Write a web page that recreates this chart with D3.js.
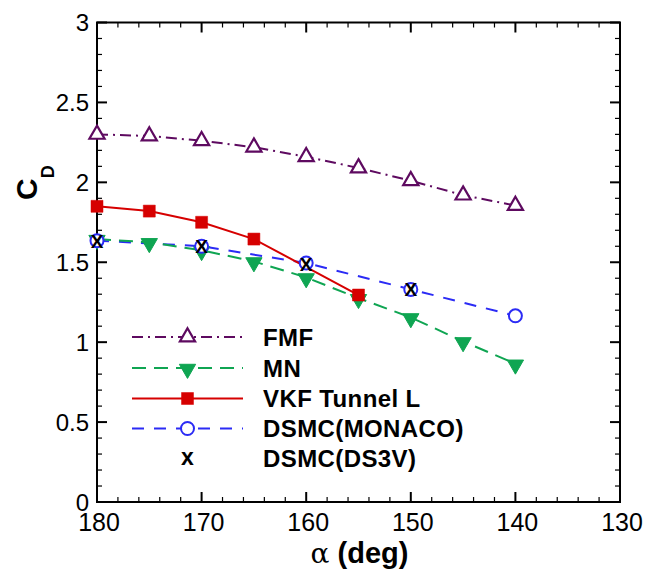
<!DOCTYPE html>
<html>
<head>
<meta charset="utf-8">
<script src="https://cdn.jsdelivr.net/npm/d3@7"></script>
<style>
  html, body { margin: 0; padding: 0; background: #fff; }
  svg { display: block; }
</style>
</head>
<body>
<div id="chart"></div>
<script>
// Drag coefficient vs. angle of attack
const alphaFMF = [180, 175, 170, 165, 160, 155, 150, 145, 140];
const cdFMF    = [2.30, 2.29, 2.26, 2.22, 2.16, 2.09, 2.01, 1.92, 1.855];

const alphaMN = [180, 175, 170, 165, 160, 155, 150, 145, 140];
const cdMN    = [1.645, 1.625, 1.575, 1.505, 1.405, 1.275, 1.155, 1.005, 0.865];

const alphaVKF = [180, 175, 170, 165, 155];
const cdVKF    = [1.85, 1.82, 1.75, 1.645, 1.295];

const alphaMonaco = [180, 170, 160, 150, 140];
const cdMonaco    = [1.635, 1.60, 1.495, 1.33, 1.165];

const alphaDS3V = [180, 170, 160, 150];
const cdDS3V    = [1.635, 1.60, 1.49, 1.33];

const xTicks = [180, 170, 160, 150, 140, 130];
const yTicks = [0, 0.5, 1, 1.5, 2, 2.5, 3];
const yTickLabels = ["0", "0.5", "1", "1.5", "2", "2.5", "3"];

const legendNames = ["FMF", "MN", "VKF Tunnel L", "DSMC(MONACO)", "DSMC(DS3V)"];

const W = 651, H = 573;
const pLeft = 97, pRight = 620, pTop = 22.5, pBottom = 502;

const svg = d3.select("#chart").append("svg")
  .attr("width", W).attr("height", H)
  .style("font-family", "'Liberation Sans', Arial, sans-serif");

const x = d3.scaleLinear().domain([180, 130]).range([pLeft, pRight]);
const y = d3.scaleLinear().domain([0, 3]).range([pBottom, pTop]);

const colors = {
  fmf: "#5e0a60",
  mn: "#0fa552",
  vkf: "#d60000",
  monaco: "#2b2bf5"
};

// ---- frame and ticks (inward, on all four sides) ----
const axisG = svg.append("g").attr("stroke", "#000");
const majorLen = 10, minorLen = 5;

const xMinor = d3.range(130, 180.01, 2);
const yMinor = d3.range(0, 30.01, 1).map(v => v / 10);

function tick(g, x1, y1, x2, y2, w) {
  g.append("line").attr("x1", x1).attr("y1", y1).attr("x2", x2).attr("y2", y2)
    .attr("stroke-width", w);
}
xMinor.forEach(v => {
  const isMajor = v % 10 === 0;
  const len = isMajor ? majorLen : minorLen;
  const w = isMajor ? 2 : 1.2;
  tick(axisG, x(v), pBottom, x(v), pBottom - len, w);
  tick(axisG, x(v), pTop, x(v), pTop + len, w);
});
yMinor.forEach(v => {
  const isMajor = Math.abs(v * 2 - Math.round(v * 2)) < 1e-6;
  const len = isMajor ? majorLen : minorLen;
  const w = isMajor ? 2 : 1.2;
  tick(axisG, pLeft, y(v), pLeft + len, y(v), w);
  tick(axisG, pRight, y(v), pRight - len, y(v), w);
});
svg.append("rect")
  .attr("x", pLeft).attr("y", pTop)
  .attr("width", pRight - pLeft).attr("height", pBottom - pTop)
  .attr("fill", "none").attr("stroke", "#000").attr("stroke-width", 2);

// tick labels
svg.append("g").selectAll("text").data(xTicks).join("text")
  .attr("x", d => x(d) + 2).attr("y", pBottom + 29)
  .attr("text-anchor", "middle")
  .attr("font-size", 25)
  .text(d => d);

svg.append("g").selectAll("text").data(yTicks).join("text")
  .attr("x", pLeft - 8).attr("y", d => y(d) + 8.5)
  .attr("text-anchor", "end")
  .attr("font-size", 24)
  .text((d, i) => yTickLabels[i]);

// axis titles
const xt = svg.append("text")
  .attr("x", (pLeft + pRight) / 2 + 1).attr("y", 563)
  .attr("text-anchor", "middle")
  .attr("font-size", 29);
xt.append("tspan").attr("font-family", "'DejaVu Serif', serif").attr("font-size", 28).text("α");
xt.append("tspan").attr("font-weight", "bold").text(" (deg)");

const yt = svg.append("text")
  .attr("transform", "translate(37,200) rotate(-90)")
  .attr("font-weight", "bold");
yt.append("tspan").attr("font-size", 30).text("C");
yt.append("tspan").attr("font-size", 18).attr("dy", 17).text("D");

// ---- series ----
const plot = svg.append("g");
const line = d3.line().x(d => x(d[0])).y(d => y(d[1]));
const zip = (a, b) => a.map((v, i) => [v, b[i]]);

const fmfData = zip(alphaFMF, cdFMF);
const mnData = zip(alphaMN, cdMN);
const vkfData = zip(alphaVKF, cdVKF);
const monData = zip(alphaMonaco, cdMonaco);
const dsData = zip(alphaDS3V, cdDS3V);

const styles = {
  fmf: { stroke: colors.fmf, dash: "11,5,2,5", width: 2 },
  mn: { stroke: colors.mn, dash: "14,8", width: 2 },
  vkf: { stroke: colors.vkf, dash: null, width: 2 },
  monaco: { stroke: colors.monaco, dash: "12,10", width: 2 }
};

function drawLine(data, st) {
  plot.append("path").datum(data)
    .attr("d", line)
    .attr("fill", "none")
    .attr("stroke", st.stroke)
    .attr("stroke-width", st.width)
    .attr("stroke-dasharray", st.dash);
}

const triUp = d3.symbol().type(d3.symbolTriangle).size(100);
const triDown = d3.symbol().type(d3.symbolTriangle).size(115);
const sq = d3.symbol().type(d3.symbolSquare).size(144);

function markerFMF(g, cx, cy) {
  g.append("path").attr("d", triUp())
    .attr("transform", `translate(${cx},${cy})`)
    .attr("fill", "#fff").attr("stroke", colors.fmf).attr("stroke-width", 2.2);
}
function markerMN(g, cx, cy) {
  g.append("path").attr("d", triDown())
    .attr("transform", `translate(${cx},${cy + 1}) rotate(180)`)
    .attr("fill", colors.mn).attr("stroke", colors.mn).attr("stroke-width", 1);
}
function markerVKF(g, cx, cy) {
  g.append("path").attr("d", sq())
    .attr("transform", `translate(${cx},${cy})`)
    .attr("fill", colors.vkf).attr("stroke", colors.vkf).attr("stroke-width", 0.5);
}
function markerMonaco(g, cx, cy) {
  g.append("circle").attr("cx", cx).attr("cy", cy).attr("r", 6.5)
    .attr("fill", "#fff").attr("stroke", colors.monaco).attr("stroke-width", 2);
}
function markerDS3V(g, cx, cy, txt, size, k) {
  g.append("text").attr("x", cx).attr("y", cy + size * k)
    .attr("text-anchor", "middle")
    .attr("font-weight", "bold").attr("font-size", size)
    .attr("fill", "#000").text(txt);
}

drawLine(fmfData, styles.fmf);
drawLine(monData, styles.monaco);
drawLine(mnData, styles.mn);
drawLine(vkfData, styles.vkf);

fmfData.forEach(d => markerFMF(plot, x(d[0]), y(d[1])));
mnData.forEach(d => markerMN(plot, x(d[0]), y(d[1])));
vkfData.forEach(d => markerVKF(plot, x(d[0]), y(d[1])));
monData.forEach(d => markerMonaco(plot, x(d[0]), y(d[1])));
dsData.forEach(d => markerDS3V(plot, x(d[0]), y(d[1]), "X", 19, 0.36));

// ---- legend ----
const legend = svg.append("g");
const legRows = [337, 368, 398.5, 428.5, 458.5];
const lx1 = 132, lx2 = 243, lmx = 187.5, ltx = 263;
const legStyles = [styles.fmf, styles.mn, styles.vkf, styles.monaco, null];
const legMarkers = [markerFMF, markerMN, markerVKF, markerMonaco, null];

legendNames.forEach((name, i) => {
  const ly = legRows[i];
  const st = legStyles[i];
  if (st) {
    legend.append("line")
      .attr("x1", lx1).attr("x2", lx2).attr("y1", ly).attr("y2", ly)
      .attr("stroke", st.stroke).attr("stroke-width", st.width)
      .attr("stroke-dasharray", st.dash);
    legMarkers[i](legend, lmx, ly);
  } else {
    markerDS3V(legend, lmx, ly, "x", 23, 0.27);
  }
  legend.append("text")
    .attr("x", ltx).attr("y", ly + 8.5)
    .attr("font-weight", "bold").attr("font-size", 24)
    .attr("letter-spacing", 0.4)
    .text(name);
});
</script>
</body>
</html>
